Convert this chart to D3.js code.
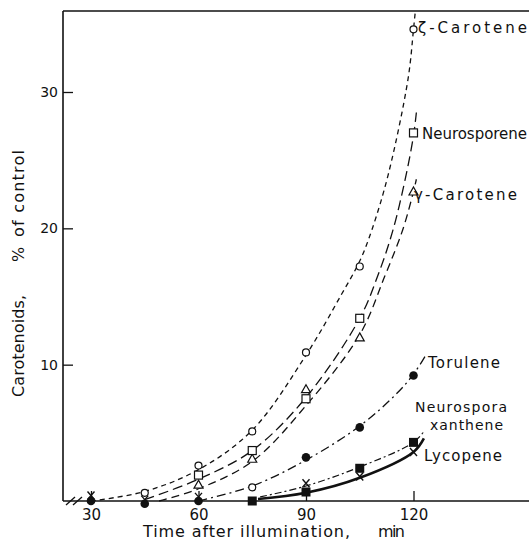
<!DOCTYPE html>
<html><head><meta charset="utf-8">
<script src="https://cdn.jsdelivr.net/npm/d3@7"></script>
<style>
html,body{margin:0;padding:0;background:#fff;}
svg{display:block;font-family:"DejaVu Sans",sans-serif;}
</style></head>
<body>
<svg id="c" width="529" height="543"></svg>
<script>
// ---- data (time in min, % of control) ----
const xTicks = [30, 60, 90, 120];
const yTicks = [10, 20, 30];

// measured points
const zetaPts   = [[45,0.6],[60,2.6],[75,5.1],[90,10.9],[105,17.2],[120,34.6]];
const neuroPts  = [[60,1.9],[75,3.7],[90,7.5],[105,13.4],[120,27.0]];
const gammaPts  = [[60,1.2],[75,3.1],[90,8.2],[105,12.0],[120,22.7]];
const toruPts   = [[30,0],[45,-0.2],[60,0],[90,3.2],[105,5.4],[120,9.2]];
const toruOpen  = [[75,1.0]];
const nxanPts   = [[75,0],[90,0.66],[105,2.4],[120,4.3]];
const lycoPts   = [[30,0.4],[45,0.1],[60,0.3],[90,1.3],[105,1.8],[120,3.6]];

// fitted curves
const zetaCurve  = [[30,0],[45,0.7],[60,2.3],[75,5.2],[90,10.7],[100,15.2],[105,17.6],[108.4,19.9],[113,24],[118.5,31],[120,34.6],[120.5,35.9]];
const neuroCurve = [[45,0.1],[60,1.6],[75,3.7],[90,7.6],[105,13.4],[110,16.5],[114.3,19.9],[118,24],[120,26.8],[120.8,28.5]];
const gammaCurve = [[49,0],[60,0.9],[75,2.9],[90,7.0],[105,12.2],[112,16.5],[117,19.9],[120,22.7],[120.8,23.6]];
const toruCurve  = [[60,0],[75,1.1],[90,3.0],[105,5.5],[115,7.8],[120,9.3],[123.2,10.6]];
const nxanCurve  = [[77.2,0.3],[90,1.1],[105,2.5],[120,4.3],[123.2,5.2]];
const lycoCurve  = [[76.6,0.15],[90,0.6],[105,1.7],[120,3.6],[122.9,4.6]];

const seriesLabels = ["ζ-Carotene","Neurosporene","γ-Carotene","Torulene","Neurospora","xanthene","Lycopene"];

// ---- drawing ----
const svg = d3.select("#c");
const x = d3.scaleLinear().domain([30,120]).range([91,413.5]);
const y = d3.scaleLinear().domain([0,30]).range([501,92]);
const ink = "#111";

// frame lines
svg.append("line").attr("x1",63).attr("x2",63).attr("y1",11).attr("y2",501).attr("stroke",ink).attr("stroke-width",1.6);
svg.append("line").attr("x1",63).attr("x2",529).attr("y1",11).attr("y2",11).attr("stroke",ink).attr("stroke-width",1.5);
svg.append("line").attr("x1",63).attr("x2",529).attr("y1",501).attr("y2",501).attr("stroke",ink).attr("stroke-width",1.6);
// axis break marks
[[66,505,75,497],[73,505,82,497]].forEach(d=>{
  svg.append("line").attr("x1",d[0]).attr("y1",d[1]).attr("x2",d[2]).attr("y2",d[3]).attr("stroke",ink).attr("stroke-width",1.4);
});

// axes
const gx = svg.append("g").attr("transform","translate(0,501)")
  .call(d3.axisBottom(x).tickValues(xTicks).tickSize(-10).tickSizeOuter(0).tickPadding(8).tickFormat(d3.format("d")));
gx.select(".domain").remove();
gx.selectAll("line").attr("stroke",ink).attr("stroke-width",1.3);
gx.selectAll("text").attr("font-size",15).attr("fill",ink).attr("font-family","DejaVu Sans");

const gy = svg.append("g").attr("transform","translate(63,0)")
  .call(d3.axisLeft(y).tickValues(yTicks).tickSize(-10).tickSizeOuter(0).tickPadding(5).tickFormat(d3.format("d")));
gy.select(".domain").remove();
gy.selectAll("line").attr("stroke",ink).attr("stroke-width",1.3);
gy.selectAll("text").attr("font-size",14).attr("fill",ink).attr("font-family","DejaVu Sans");

// curves
const line = d3.line().x(d=>x(d[0])).y(d=>y(d[1])).curve(d3.curveCatmullRom.alpha(0.5));
function drawCurve(data, dash, w){
  svg.append("path").datum(data).attr("d",line).attr("fill","none")
    .attr("stroke",ink).attr("stroke-width",w).attr("stroke-dasharray",dash);
}
drawCurve(zetaCurve,"5,4",1.3);
drawCurve(neuroCurve,"10,5",1.3);
drawCurve(gammaCurve,"8,5",1.3);
drawCurve(toruCurve,"9,4,2,4",1.3);
drawCurve(nxanCurve,"7,3,2,3",1.2);
drawCurve(lycoCurve,null,2.6);

// markers
const mk = svg.append("g");
function openCircle(pts){ pts.forEach(d=>mk.append("circle").attr("cx",x(d[0])).attr("cy",y(d[1])).attr("r",3.5).attr("fill","#fff").attr("stroke",ink).attr("stroke-width",1.2)); }
function openSquare(pts){ pts.forEach(d=>mk.append("rect").attr("x",x(d[0])-4).attr("y",y(d[1])-4).attr("width",8).attr("height",8).attr("fill","#fff").attr("stroke",ink).attr("stroke-width",1.2)); }
function openTri(pts){ pts.forEach(d=>{const cx=x(d[0]),cy=y(d[1]);
  mk.append("path").attr("d",`M${cx},${cy-4.5}L${cx+4.5},${cy+3.5}L${cx-4.5},${cy+3.5}Z`).attr("fill","#fff").attr("stroke",ink).attr("stroke-width",1.2);}); }
function fillCircle(pts){ pts.forEach(d=>mk.append("circle").attr("cx",x(d[0])).attr("cy",y(d[1])).attr("r",4.3).attr("fill",ink)); }
function fillSquare(pts){ pts.forEach(d=>mk.append("rect").attr("x",x(d[0])-4.5).attr("y",y(d[1])-4.5).attr("width",9).attr("height",9).attr("fill",ink)); }
function cross(pts){ pts.forEach(d=>{const cx=x(d[0]),cy=y(d[1]);
  mk.append("path").attr("d",`M${cx-3.5},${cy-4}L${cx+3.5},${cy+4}M${cx+3.5},${cy-4}L${cx-3.5},${cy+4}`).attr("stroke",ink).attr("stroke-width",1.4).attr("fill","none");}); }

fillCircle(toruPts);
openCircle(toruOpen);
fillSquare(nxanPts);
cross(lycoPts);
openTri(gammaPts);
openSquare(neuroPts);
openCircle(zetaPts);

// series labels: [x, baseline, width, size]
const labelPos = [[418,33,109,15],[422,139,105,15],[414,200,103,15],[428,368,72,15],[415,412,92,14],[430,430,73,14],[424,461,78,15]];
seriesLabels.forEach((t,i)=>{
  const p = labelPos[i];
  svg.append("text").attr("x",p[0]).attr("y",p[1]).attr("font-size",p[3]).attr("fill",ink)
    .attr("textLength",p[2]).attr("lengthAdjust","spacing").text(t);
});

// axis titles
const xt = svg.append("text").attr("y",537).attr("font-size",16).attr("fill",ink);
xt.append("tspan").attr("x",143).attr("textLength",207).attr("lengthAdjust","spacing").text("Time after illumination,");
xt.append("tspan").attr("x",378).attr("textLength",27).attr("lengthAdjust","spacing").text("min");

const yt = svg.append("text").attr("transform","translate(24,0) rotate(-90)").attr("font-size",16).attr("fill",ink);
yt.append("tspan").attr("x",-397).attr("textLength",102).attr("lengthAdjust","spacing").text("Carotenoids,");
yt.append("tspan").attr("x",-262).attr("textLength",18).attr("lengthAdjust","spacing").text("%");
yt.append("tspan").attr("x",-237).attr("textLength",87).attr("lengthAdjust","spacing").text("of control");
</script>
</body></html>
